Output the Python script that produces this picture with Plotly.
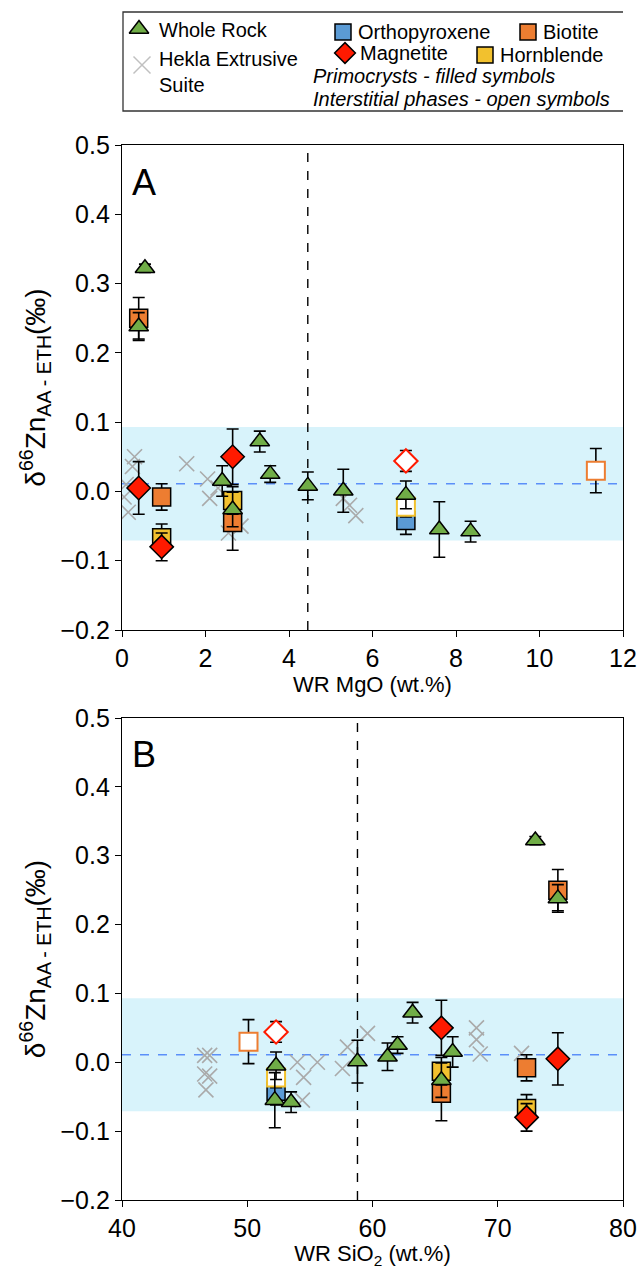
import plotly.graph_objects as go

W, H = 638, 1269

# ---------------- data ----------------
# Whole rock
wr_mgo  = [0.55, 0.40, 2.40, 2.65, 3.30, 3.55, 4.45, 5.30, 6.80, 7.60, 8.35]
wr_sio2 = [73.0, 74.8, 66.4, 65.5, 63.2, 62.0, 61.2, 58.8, 52.3, 52.2, 53.5]
wr_d66  = [0.322, 0.238, 0.015, -0.026, 0.072, 0.025, 0.008, 0.001, -0.005, -0.055, -0.058]
wr_err  = [0.006, 0.020, 0.022, 0.025, 0.015, 0.012, 0.020, 0.031, 0.020, 0.040, 0.015]

# Biotite (primocryst / interstitial)
bt_mgo  = [0.40, 0.95, 2.65]
bt_sio2 = [74.8, 72.3, 65.5]
bt_d66  = [0.250, -0.008, -0.045]
bt_err  = [0.030, 0.019, 0.040]
bt_open_mgo  = [11.35]
bt_open_sio2 = [50.1]
bt_open_d66  = [0.030]
bt_open_err  = [0.032]

# Hornblende
hb_mgo  = [0.95, 2.65]
hb_sio2 = [72.3, 65.5]
hb_d66  = [-0.067, -0.013]
hb_err  = [0.020, 0.020]
hb_open_mgo  = [6.80]
hb_open_sio2 = [52.3]
hb_open_d66  = [-0.022]
hb_open_err  = [0.015]

# Orthopyroxene
opx_mgo  = [6.80]
opx_sio2 = [52.3]
opx_d66  = [-0.042]
opx_err  = [0.020]

# Magnetite
mt_mgo  = [0.40, 0.95, 2.65]
mt_sio2 = [74.8, 72.3, 65.5]
mt_d66  = [0.005, -0.080, 0.050]
mt_err  = [0.038, 0.020, 0.040]
mt_open_mgo  = [6.80]
mt_open_sio2 = [52.3]
mt_open_d66  = [0.044]
mt_open_err  = [0.015]

# Hekla Extrusive Suite
hekla_mgo   = [0.30, 0.25, 0.10, 0.05, 0.15, 1.55, 2.05, 2.10, 2.30, 2.55, 2.85, 5.30, 5.45, 5.60]
hekla_d66_a = [0.050, 0.036, 0.010, -0.008, -0.030, 0.040, 0.018, -0.010, 0.005, -0.060, -0.050, -0.010, -0.020, -0.035]
hekla_sio2  = [46.6, 47.0, 46.6, 47.0, 46.7, 54.0, 54.5, 55.6, 54.4, 57.6, 58.0, 59.6, 68.3, 68.3, 68.6, 71.9]
hekla_d66_b = [0.010, 0.010, -0.017, -0.020, -0.040, 0.000, -0.022, 0.000, -0.055, -0.009, 0.022, 0.042, 0.050, 0.033, 0.012, 0.013]

# reference band / lines
band_lo, band_hi, band_mid = -0.071, 0.093, 0.011
vline_mgo, vline_sio2 = 4.45, 58.8

# ---------------- styling ----------------
FONT = "Arial, Liberation Sans, sans-serif"
C_WR, C_BT, C_HB, C_OPX, C_MT = "#70ad47", "#ed7d31", "#f2c12e", "#5b9bd5", "#ff1a00"
C_HEK = "#aaaaaa"
TICKF, TITLEF, LEGF, YTF = 25, 22, 20, 28
L, R, B = 122, 15, 69
PH = H - B  # plot-area height (top margin 0)

px2y = lambda p: 1 - p / PH

fig = go.Figure()

def add_set(xa, ya, x, y, err, symbol, size, fill, line_color, lw=1.5):
    fig.add_trace(go.Scatter(
        x=x, y=y, mode="markers", xaxis=xa, yaxis=ya, showlegend=False,
        error_y=dict(type="data", array=err, color="black", thickness=1.6, width=6),
        marker=dict(symbol=symbol, size=size, color=fill,
                    line=dict(color=line_color, width=lw))))

for xa, ya, xs, key in [("x", "y", "mgo", "a"), ("x2", "y2", "sio2", "b")]:
    g = globals()
    fig.add_trace(go.Scatter(
        x=g["hekla_" + xs], y=g["hekla_d66_" + key], mode="markers", xaxis=xa, yaxis=ya,
        showlegend=False,
        marker=dict(symbol="x-thin", size=15, color=C_HEK, line=dict(color=C_HEK, width=1.6))))
    add_set(xa, ya, g["bt_" + xs], bt_d66, bt_err, "square", 18, C_BT, "black")
    add_set(xa, ya, g["bt_open_" + xs], bt_open_d66, bt_open_err, "square", 18, "white", C_BT, 2)
    add_set(xa, ya, g["opx_" + xs], opx_d66, opx_err, "square", 18, C_OPX, "black")
    add_set(xa, ya, g["hb_" + xs], hb_d66, hb_err, "square", 18, C_HB, "black")
    add_set(xa, ya, g["hb_open_" + xs], hb_open_d66, hb_open_err, "square", 18, "white", C_HB, 2)
    add_set(xa, ya, g["mt_" + xs], mt_d66, mt_err, "diamond", 18, C_MT, "black")
    add_set(xa, ya, g["mt_open_" + xs], mt_open_d66, mt_open_err, "diamond", 18, "white", C_MT, 2)
    add_set(xa, ya, g["wr_" + xs], wr_d66, wr_err, "triangle-up", 17, C_WR, "black")

# ---------------- axes ----------------
ax_common = dict(showline=True, linecolor="black", linewidth=1.3, mirror=True,
                 ticks="outside", ticklen=6, tickwidth=1.3, tickcolor="black",
                 showgrid=False, zeroline=False, automargin=False,
                 tickfont=dict(family=FONT, size=TICKF, color="black"))
ytitle = dict(text="δ<sup>66</sup>Zn<sub>AA - ETH</sub>(‰)", standoff=6,
              font=dict(family=FONT, size=YTF, color="black"))
fig.update_layout(
    xaxis=dict(domain=[0, 1], range=[0, 12], dtick=2, anchor="y", **ax_common,
               title=dict(text="WR MgO (wt.%)", font=dict(family=FONT, size=TITLEF, color="black"), standoff=3)),
    yaxis=dict(domain=[px2y(630), px2y(145)], range=[-0.2, 0.5], dtick=0.1, tickformat=".1f",
               anchor="x", title=ytitle, **ax_common),
    xaxis2=dict(domain=[0, 1], range=[40, 80], dtick=10, anchor="y2", **ax_common,
                title=dict(text="WR SiO<sub>2</sub> (wt.%)", font=dict(family=FONT, size=TITLEF, color="black"), standoff=3)),
    yaxis2=dict(domain=[0, px2y(718)], range=[-0.2, 0.5], dtick=0.1, tickformat=".1f",
                anchor="x2", title=ytitle, **ax_common),
    xaxis3=dict(domain=[0, 1], range=[L, W - R], visible=False, anchor="y3", fixedrange=True),
    yaxis3=dict(domain=[px2y(125), 1], range=[125, 0], visible=False, anchor="x3", fixedrange=True),
)

shapes = []
for xr, yr, vx in [("x", "y", vline_mgo), ("x2", "y2", vline_sio2)]:
    shapes.append(dict(type="rect", xref=xr + " domain", yref=yr, x0=0, x1=1, y0=band_lo, y1=band_hi,
                       fillcolor="#d8f3fb", line=dict(width=0), layer="below"))
    shapes.append(dict(type="line", xref=xr + " domain", yref=yr, x0=0, x1=1, y0=band_mid, y1=band_mid,
                       line=dict(color="#5b8ff9", width=1.6, dash="dash"), layer="below"))
    shapes.append(dict(type="line", xref=xr, yref=yr + " domain", x0=vx, x1=vx, y0=0, y1=1,
                       line=dict(color="black", width=1.4, dash="dash"), layer="below"))
# legend box
shapes.append(dict(type="rect", xref="x3", yref="y3", x0=123, x1=625, y0=12, y1=111,
                   line=dict(color="#333333", width=1.3), fillcolor="rgba(0,0,0,0)"))

annotations = []
annotations.append(dict(text="A", xref="x domain", yref="y domain", x=0.015, y=0.97, showarrow=False,
                        xanchor="left", yanchor="top", font=dict(family=FONT, size=36, color="black")))
annotations.append(dict(text="B", xref="x2 domain", yref="y2 domain", x=0.015, y=0.97, showarrow=False,
                        xanchor="left", yanchor="top", font=dict(family=FONT, size=36, color="black")))

# legend content (pixel coordinates on hidden axis 3)
leg_items = [
    (139, 29, "triangle-up", 17, C_WR, "black", 157, 30, "Whole Rock"),
    (343, 32, "square", 16, C_OPX, "black", 356, 32, "Orthopyroxene"),
    (528, 32, "square", 16, C_BT, "black", 541, 32, "Biotite"),
    (345, 53, "diamond", 16, C_MT, "black", 358, 53, "Magnetite"),
    (485, 55, "square", 16, C_HB, "black", 498, 55, "Hornblende"),
]
for mx, my, sym, sz, fc, lc, tx, ty, label in leg_items:
    fig.add_trace(go.Scatter(x=[mx], y=[my], xaxis="x3", yaxis="y3", mode="markers", showlegend=False,
                             marker=dict(symbol=sym, size=sz, color=fc, line=dict(color=lc, width=1.5))))
    annotations.append(dict(text=label, xref="x3", yref="y3", x=tx, y=ty, showarrow=False,
                            xanchor="left", yanchor="middle", font=dict(family=FONT, size=LEGF, color="black")))
fig.add_trace(go.Scatter(x=[142], y=[65], xaxis="x3", yaxis="y3", mode="markers", showlegend=False,
                         marker=dict(symbol="x-thin", size=17, color=C_HEK, line=dict(color="#c0c0c0", width=1.5))))
annotations.append(dict(text="Hekla Extrusive<br>Suite", xref="x3", yref="y3", x=157, y=72, showarrow=False,
                        xanchor="left", yanchor="middle", align="left",
                        font=dict(family=FONT, size=LEGF, color="black")))
annotations.append(dict(text="<i>Primocrysts - filled symbols</i>", xref="x3", yref="y3", x=311, y=76,
                        showarrow=False, xanchor="left", yanchor="middle",
                        font=dict(family=FONT, size=LEGF, color="black")))
annotations.append(dict(text="<i>Interstitial phases - open symbols</i>", xref="x3", yref="y3", x=311, y=99,
                        showarrow=False, xanchor="left", yanchor="middle",
                        font=dict(family=FONT, size=LEGF, color="black")))

fig.update_layout(width=W, height=H, margin=dict(l=L, r=R, t=0, b=B, autoexpand=False),
                  paper_bgcolor="white", plot_bgcolor="rgba(0,0,0,0)",
                  shapes=shapes, annotations=annotations, showlegend=False,
                  font=dict(family=FONT, color="black"))

fig.write_html("out.html")
